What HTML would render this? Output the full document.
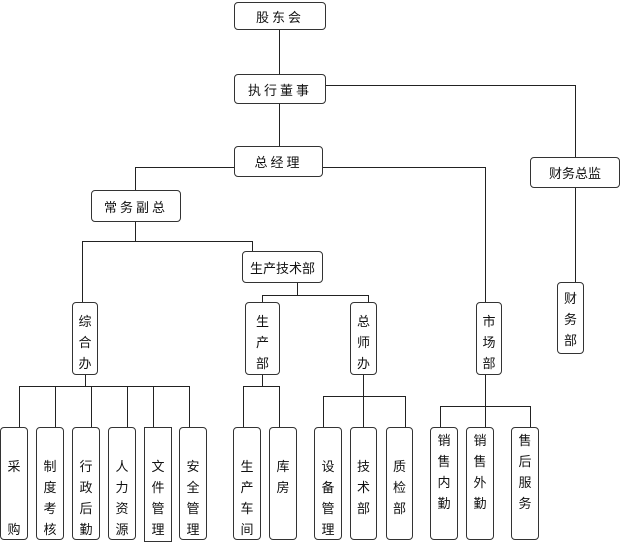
<!DOCTYPE html>
<html><head><meta charset="utf-8"><style>
body{margin:0;width:620px;height:543px;background:#fff;position:relative;overflow:hidden;font-family:"Liberation Sans","Noto Sans CJK SC",sans-serif;color:#111}
.b{position:absolute;border:1px solid #333;border-radius:4px;background:#fff;box-sizing:border-box;font-size:13px;display:flex;align-items:center;justify-content:center;letter-spacing:3px}
.v{position:absolute;border:1px solid #333;border-radius:4px;background:#fff;box-sizing:border-box;font-size:13px;text-align:center;line-height:21px}
.h{position:absolute;height:1px;background:#222}
.l{position:absolute;width:1px;background:#222}
</style></head><body>
<!-- lines -->
<div class="l" style="left:279px;top:30px;height:44px"></div>
<div class="l" style="left:279px;top:104px;height:42px"></div>
<div class="h" style="left:326px;top:85px;width:249px"></div>
<div class="l" style="left:575px;top:85px;height:72px"></div>
<div class="l" style="left:575px;top:188px;height:94px"></div>
<div class="h" style="left:323px;top:167px;width:162px"></div>
<div class="l" style="left:485px;top:167px;height:135px"></div>
<div class="h" style="left:135px;top:167px;width:99px"></div>
<div class="l" style="left:135px;top:167px;height:23px"></div>
<div class="l" style="left:135px;top:222px;height:19px"></div>
<div class="h" style="left:82px;top:241px;width:170px"></div>
<div class="l" style="left:82px;top:241px;height:61px"></div>
<div class="l" style="left:252px;top:241px;height:10px"></div>
<div class="l" style="left:297px;top:283px;height:12px"></div>
<div class="h" style="left:262px;top:295px;width:106px"></div>
<div class="l" style="left:262px;top:295px;height:7px"></div>
<div class="l" style="left:368px;top:295px;height:7px"></div>
<div class="l" style="left:85px;top:375px;height:11px"></div>
<div class="h" style="left:19px;top:386px;width:170px"></div>
<div class="l" style="left:19px;top:386px;height:41px"></div>
<div class="l" style="left:55px;top:386px;height:41px"></div>
<div class="l" style="left:91px;top:386px;height:41px"></div>
<div class="l" style="left:127px;top:386px;height:41px"></div>
<div class="l" style="left:153px;top:386px;height:41px"></div>
<div class="l" style="left:189px;top:386px;height:41px"></div>
<div class="l" style="left:262px;top:375px;height:11px"></div>
<div class="h" style="left:243px;top:386px;width:36px"></div>
<div class="l" style="left:243px;top:386px;height:41px"></div>
<div class="l" style="left:279px;top:386px;height:41px"></div>
<div class="l" style="left:363px;top:375px;height:52px"></div>
<div class="h" style="left:323px;top:396px;width:82px"></div>
<div class="l" style="left:323px;top:396px;height:31px"></div>
<div class="l" style="left:405px;top:396px;height:31px"></div>
<div class="l" style="left:485px;top:375px;height:52px"></div>
<div class="h" style="left:440px;top:406px;width:90px"></div>
<div class="l" style="left:440px;top:406px;height:21px"></div>
<div class="l" style="left:530px;top:406px;height:21px"></div>
<!-- boxes -->
<div class="b" style="left:234px;top:2px;width:92px;height:28px">股东会</div>
<div class="b" style="left:234px;top:74px;width:92px;height:30px">执行董事</div>
<div class="b" style="left:234px;top:146px;width:89px;height:31px">总经理</div>
<div class="b" style="left:530px;top:157px;width:90px;height:31px;letter-spacing:0">财务总监</div>
<div class="b" style="left:91px;top:190px;width:90px;height:32px">常务副总</div>
<div class="b" style="left:242px;top:251px;width:81px;height:32px;letter-spacing:0">生产技术部</div>
<div class="v" style="left:557px;top:282px;width:27px;height:72px;padding-top:5px">财<br>务<br>部</div>
<div class="v" style="left:72px;top:302px;width:26px;height:73px;padding-top:8px">综<br>合<br>办</div>
<div class="v" style="left:245px;top:302px;width:35px;height:73px;padding-top:8px">生<br>产<br>部</div>
<div class="v" style="left:350px;top:302px;width:27px;height:73px;padding-top:8px">总<br>师<br>办</div>
<div class="v" style="left:476px;top:302px;width:26px;height:73px;padding-top:8px">市<br>场<br>部</div>
<div class="v" style="left:0px;top:427px;width:28px;height:113px;padding-top:28px;line-height:21px">采<br><br><br>购</div>
<div class="v" style="left:36px;top:427px;width:28px;height:113px;padding-top:28px">制<br>度<br>考<br>核</div>
<div class="v" style="left:72px;top:427px;width:28px;height:113px;padding-top:28px">行<br>政<br>后<br>勤</div>
<div class="v" style="left:108px;top:427px;width:28px;height:113px;padding-top:28px">人<br>力<br>资<br>源</div>
<div class="v" style="left:144px;top:427px;width:28px;height:115px;padding-top:28px;border-radius:0">文<br>件<br>管<br>理</div>
<div class="v" style="left:179px;top:427px;width:28px;height:113px;padding-top:28px">安<br>全<br>管<br>理</div>
<div class="v" style="left:233px;top:427px;width:28px;height:113px;padding-top:28px">生<br>产<br>车<br>间</div>
<div class="v" style="left:269px;top:427px;width:28px;height:113px;padding-top:28px">库<br>房</div>
<div class="v" style="left:314px;top:427px;width:28px;height:113px;padding-top:28px">设<br>备<br>管<br>理</div>
<div class="v" style="left:350px;top:427px;width:27px;height:113px;padding-top:28px">技<br>术<br>部</div>
<div class="v" style="left:386px;top:427px;width:27px;height:113px;padding-top:28px">质<br>检<br>部</div>
<div class="v" style="left:430px;top:427px;width:28px;height:113px;padding-top:2px">销<br>售<br>内<br>勤</div>
<div class="v" style="left:466px;top:427px;width:28px;height:113px;padding-top:2px">销<br>售<br>外<br>勤</div>
<div class="v" style="left:511px;top:427px;width:28px;height:113px;padding-top:2px">售<br>后<br>服<br>务</div>
</body></html>
